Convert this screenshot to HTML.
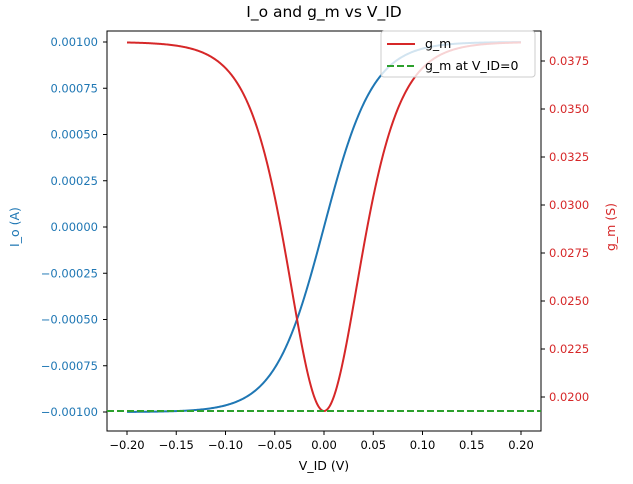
<!DOCTYPE html>
<html><head><meta charset="utf-8"><style>
body{margin:0;background:#fff}
svg{font-family:"DejaVu Sans","Liberation Sans",sans-serif}
</style></head><body>
<svg id="s" width="633" height="479" xmlns="http://www.w3.org/2000/svg"></svg>
<script>
const s=document.getElementById('s');
let h='';
const X=v=>324+v/0.05*49.25;
const YL=v=>227-v/0.00025*46.25;
const YR=v=>397-(v-0.02)/0.0025*48;
h+='<rect x="107" y="31" width="434" height="400" fill="none" stroke="#000" stroke-width="1"/>';
for(let i=-4;i<=4;i++){const v=i*0.05,x=X(v);
h+=`<line x1="${x}" y1="431" x2="${x}" y2="435" stroke="#000"/>`;
h+=`<text x="${x}" y="449" font-size="11.5" text-anchor="middle">${(v<0?'−':'')+Math.abs(v).toFixed(2)}</text>`;}
for(let i=-4;i<=4;i++){const v=i*0.00025,y=YL(v);
h+=`<line x1="103" y1="${y}" x2="107" y2="${y}" stroke="#000"/>`;
h+=`<text x="98" y="${y+4}" font-size="11.5" fill="#1f77b4" text-anchor="end">${(v<0?'−':'')+Math.abs(v).toFixed(5)}</text>`;}
for(let i=0;i<=7;i++){const v=0.02+i*0.0025,y=YR(v);
h+=`<line x1="541" y1="${y}" x2="545" y2="${y}" stroke="#000"/>`;
h+=`<text x="549" y="${y+4}" font-size="11.5" fill="#d62728">${v.toFixed(4)}</text>`;}
let pb='',pr='';
for(let i=0;i<=400;i++){const v=-0.2+i*0.001;const t=Math.tanh(v/0.05);
pb+=(i?'L':'M')+X(v).toFixed(2)+','+YL(0.001*t).toFixed(2);
pr+=(i?'L':'M')+X(v).toFixed(2)+','+YR(0.01927+0.01922*t*t).toFixed(2);}
h+=`<path d="${pb}" fill="none" stroke="#1f77b4" stroke-width="2"/>`;
h+=`<path d="${pr}" fill="none" stroke="#d62728" stroke-width="2"/>`;
h+=`<line x1="107" y1="411" x2="541" y2="411" stroke="#2ca02c" stroke-width="2" stroke-dasharray="7,3"/>`;
h+=`<rect x="381" y="31" width="154" height="46" rx="3" fill="#fff" fill-opacity="0.8" stroke="#ccc"/>`;
h+=`<line x1="387" y1="44" x2="415" y2="44" stroke="#d62728" stroke-width="2"/>`;
h+=`<text x="425" y="48" font-size="12.5">g_m</text>`;
h+=`<line x1="387" y1="66" x2="415" y2="66" stroke="#2ca02c" stroke-width="2" stroke-dasharray="7,3"/>`;
h+=`<text x="425" y="70" font-size="12.5">g_m at V_ID=0</text>`;
h+=`<text x="324" y="17" font-size="15.5" text-anchor="middle">I_o and g_m vs V_ID</text>`;
h+=`<text x="324" y="470" font-size="12.5" text-anchor="middle">V_ID (V)</text>`;
h+=`<text transform="translate(19,227) rotate(-90)" font-size="12.5" fill="#1f77b4" text-anchor="middle">I_o (A)</text>`;
h+=`<text transform="translate(615,227) rotate(-90)" font-size="12.5" fill="#d62728" text-anchor="middle">g_m (S)</text>`;
s.innerHTML=h;
</script>
</body></html>
